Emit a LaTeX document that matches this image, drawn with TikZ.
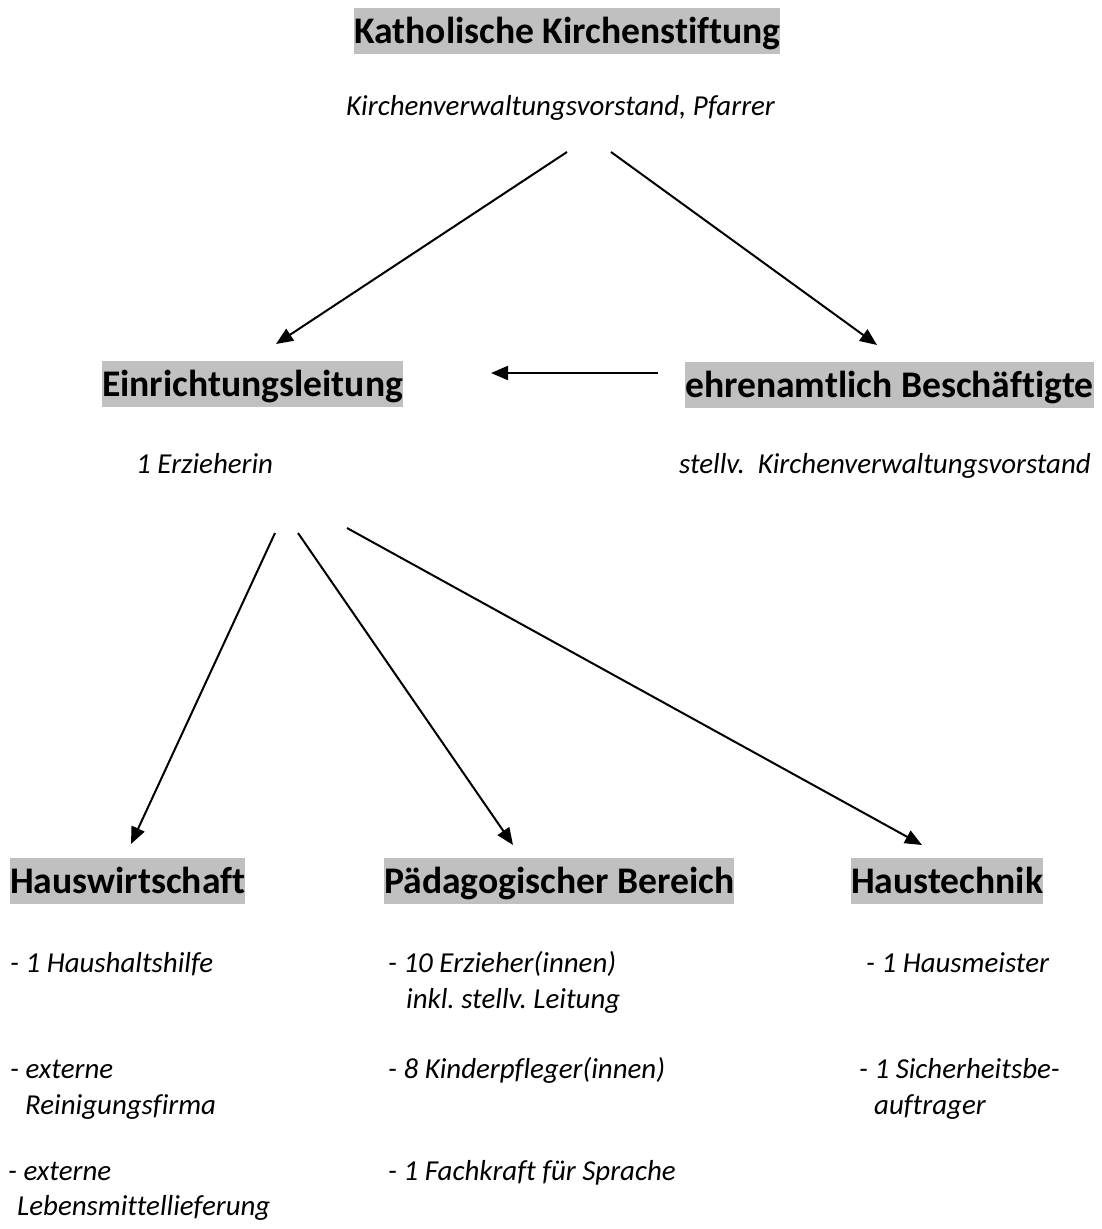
\documentclass[tikz,border=0pt]{standalone}
\usepackage{fontspec}
\setmainfont{Carlito}[Ligatures=NoCommon]
\usetikzlibrary{arrows.meta}
\definecolor{hl}{RGB}{192,192,192}
\frenchspacing
\begin{document}
\begin{tikzpicture}[x=1pt,y=-1pt,
  head/.style={fill=hl, inner sep=0pt, font=\fontsize{37.6}{45}\selectfont\bfseries, text height=35.6pt, text depth=10pt, anchor=north west},
  lbl/.style={inner sep=0pt, font=\fontsize{28.9}{34}\selectfont\itshape, anchor=base west},
  arr/.style={line width=2pt, -{Triangle[length=17pt,width=14pt]}}]
\useasboundingbox (0,0) rectangle (1102,1229);
% headings
\node[head] (kks) at (354,8) {Katholische Kirchenstiftung};
\node[head] (el) at (102,361) {Einrichtungsleitung};
\node[head] (eb) at (685,362) {ehrenamtlich Beschäftigte};
\node[head] (hw) at (10,858) {Hauswirtschaft};
\node[head] (pb) at (384,858) {Pädagogischer Bereich};
\node[head] (ht) at (851,858) {Haustechnik};
% labels
\node[lbl] (sub) at (346,115) {Kirchenverwaltungsvorstand, Pfarrer};
\node[lbl] (erz) at (136,473) {1 Erzieherin};
\node[lbl, anchor=base east] (stv) at (1091,473) {stellv.\ \ Kirchenverwaltungsvorstand};
\node[lbl] (l1) at (10,972) {- 1 Haushaltshilfe};
\node[lbl] (l2) at (10,1078) {- externe};
\node[lbl] (l3) at (25,1114) {Reinigungsfirma};
\node[lbl] (l4) at (8,1180) {- externe};
\node[lbl] (l5) at (17,1215) {Lebensmittellieferung};
\node[lbl] (m1) at (388,972) {- 10 Erzieher(innen)};
\node[lbl] (m2) at (406,1008) {inkl. stellv. Leitung};
\node[lbl] (m3) at (388,1078) {- 8 Kinderpfleger(innen)};
\node[lbl] (m4) at (388,1180) {- 1 Fachkraft für Sprache};
\node[lbl] (r1) at (866,972) {- 1 Hausmeister};
\node[lbl] (r2) at (859,1078) {- 1 Sicherheitsbe-};
\node[lbl] (r3) at (874,1114) {auftrager};
% connector end points
\coordinate (a1s) at (567,152);
\coordinate (a1e) at (276,344);
\coordinate (a2s) at (611,152);
\coordinate (a2e) at (877,345);
\coordinate (a3s) at (658,373);
\coordinate (a3e) at (491,373);
\coordinate (a4s) at (275,533);
\coordinate (a4e) at (131,844);
\coordinate (a5s) at (298,533);
\coordinate (a5e) at (513,845);
\coordinate (a6s) at (347,528);
\coordinate (a6e) at (922,845);
\draw[arr] (a1s) -- (a1e);
\draw[arr] (a2s) -- (a2e);
\draw[arr] (a3s) -- (a3e);
\draw[arr] (a4s) -- (a4e);
\draw[arr] (a5s) -- (a5e);
\draw[arr] (a6s) -- (a6e);
\end{tikzpicture}
\end{document}
